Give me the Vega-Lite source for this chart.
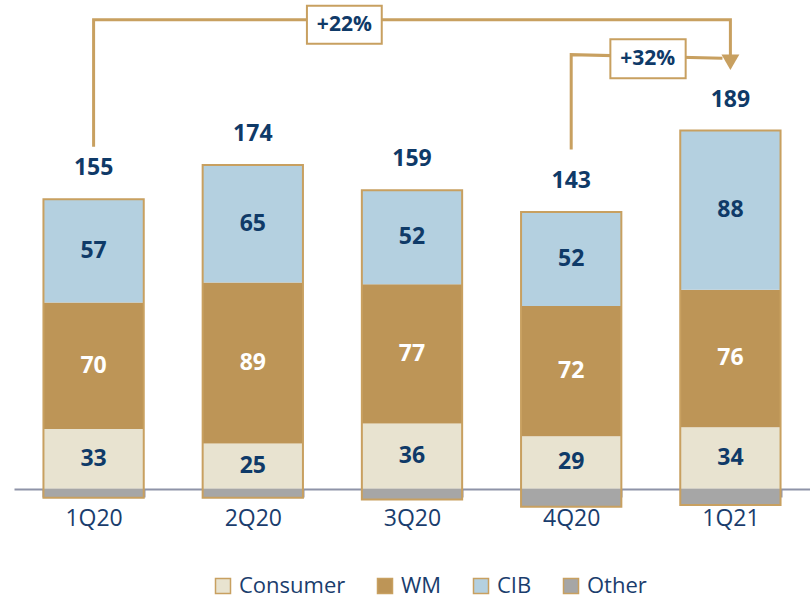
{
  "$schema": "https://vega.github.io/schema/vega-lite/v6.json",
  "width": 796,
  "height": 510,
  "padding": {"left": 14, "top": 4, "right": 0, "bottom": 0},
  "background": "white",
  "config": {"view": {"stroke": null}, "font": "Open Sans"},
  "datasets": {
    "segs": [
      {"q": "1Q20", "seg": "Consumer", "v": 33, "ord": 1},
      {"q": "1Q20", "seg": "WM", "v": 70, "ord": 2},
      {"q": "1Q20", "seg": "CIB", "v": 57, "ord": 3},
      {"q": "1Q20", "seg": "Other", "v": -5, "ord": 4},
      {"q": "2Q20", "seg": "Consumer", "v": 25, "ord": 1},
      {"q": "2Q20", "seg": "WM", "v": 89, "ord": 2},
      {"q": "2Q20", "seg": "CIB", "v": 65, "ord": 3},
      {"q": "2Q20", "seg": "Other", "v": -5, "ord": 4},
      {"q": "3Q20", "seg": "Consumer", "v": 36, "ord": 1},
      {"q": "3Q20", "seg": "WM", "v": 77, "ord": 2},
      {"q": "3Q20", "seg": "CIB", "v": 52, "ord": 3},
      {"q": "3Q20", "seg": "Other", "v": -6, "ord": 4},
      {"q": "4Q20", "seg": "Consumer", "v": 29, "ord": 1},
      {"q": "4Q20", "seg": "WM", "v": 72, "ord": 2},
      {"q": "4Q20", "seg": "CIB", "v": 52, "ord": 3},
      {"q": "4Q20", "seg": "Other", "v": -10, "ord": 4},
      {"q": "1Q21", "seg": "Consumer", "v": 34, "ord": 1},
      {"q": "1Q21", "seg": "WM", "v": 76, "ord": 2},
      {"q": "1Q21", "seg": "CIB", "v": 88, "ord": 3},
      {"q": "1Q21", "seg": "Other", "v": -9, "ord": 4}
    ],
    "paths": [
      {"path": "a", "i": 0, "x": 0.5, "y": 189},
      {"path": "a", "i": 1, "x": 0.5, "y": 259.3},
      {"path": "a", "i": 2, "x": 4.5, "y": 259.3},
      {"path": "a", "i": 3, "x": 4.5, "y": 238},
      {"path": "b", "i": 0, "x": 3.5, "y": 187.5},
      {"path": "b", "i": 1, "x": 3.5, "y": 240},
      {"path": "b", "i": 2, "x": 4.45, "y": 238}
    ],
    "boxes": [
      {"label": "+22%", "x1": 1.84, "x2": 2.31, "y1": 246, "y2": 267, "tx": 2.075, "ty": 256.5},
      {"label": "+32%", "x1": 3.746, "x2": 4.219, "y1": 227, "y2": 248.5, "tx": 3.98, "ty": 237.7}
    ],
    "arrow": [{"x": 4.5, "y": 235.8}]
  },
  "resolve": {"scale": {"x": "independent"}},
  "layer": [
    {
      "data": {"name": "segs"},
      "transform": [
        {"stack": "v", "groupby": ["q"], "sort": [{"field": "ord", "order": "ascending"}], "as": ["v0", "v1"]},
        {"calculate": "(datum.v0 + datum.v1) / 2", "as": "mid"}
      ],
      "encoding": {
        "x": {
          "field": "q", "type": "nominal",
          "sort": ["1Q20", "2Q20", "3Q20", "4Q20", "1Q21"],
          "scale": {"paddingInner": 0.37, "paddingOuter": 0.185},
          "axis": {
            "title": null, "labelFontSize": 23, "labelColor": "#1a3d6d", "labelAngle": 0,
            "domainColor": "#8e93a8", "domainWidth": 2, "tickColor": "#8e93a8", "tickWidth": 2,
            "tickSize": 8, "tickBand": "extent", "labelPadding": 10, "offset": -25, "zindex": 0
          }
        }
      },
      "layer": [
        {
          "mark": {"type": "bar"},
          "encoding": {
            "y": {"field": "v0", "type": "quantitative", "scale": {"domain": [-14, 268], "nice": false, "zero": false}, "axis": null},
            "y2": {"field": "v1"},
            "color": {
              "field": "seg", "type": "nominal",
              "scale": {"domain": ["Consumer", "WM", "CIB", "Other"], "range": ["#e8e3d0", "#bd9557", "#b4d0e0", "#a6a6a6"]},
              "legend": {
                "orient": "none", "legendX": 198, "legendY": 571, "direction": "horizontal", "title": null,
                "labelFontSize": 22, "labelColor": "#1a3d6d", "symbolType": "square", "symbolSize": 225,
                "symbolStrokeColor": "#c8a060", "symbolStrokeWidth": 1.5, "columnPadding": 28,
                "labelOffset": 5, "padding": 0
              }
            }
          }
        },
        {
          "transform": [
            {"aggregate": [{"op": "min", "field": "v1", "as": "lo"}, {"op": "max", "field": "v1", "as": "hi"}, {"op": "sum", "field": "v", "as": "tot"}], "groupby": ["q"]}
          ],
          "layer": [
            {
              "mark": {"type": "bar", "fillOpacity": 0, "stroke": "#c8a060", "strokeWidth": 2},
              "encoding": {
                "y": {"field": "lo", "type": "quantitative", "axis": null},
                "y2": {"field": "hi"}
              }
            },
            {
              "mark": {"type": "text", "fontSize": 23, "fontWeight": "bold", "color": "#0f3a68", "dy": -31, "baseline": "middle"},
              "encoding": {
                "y": {"field": "hi", "type": "quantitative", "axis": null},
                "text": {"field": "tot", "type": "quantitative"}
              }
            }
          ]
        },
        {
          "transform": [{"filter": "datum.seg !== 'Other'"}],
          "mark": {"type": "text", "fontSize": 23, "fontWeight": "bold", "baseline": "middle"},
          "encoding": {
            "y": {"field": "mid", "type": "quantitative", "axis": null},
            "text": {"field": "v", "type": "quantitative"},
            "color": {"condition": {"test": "datum.seg === 'WM'", "value": "white"}, "value": "#0f3a68"}
          }
        }
      ]
    },
    {
      "layer": [
        {
          "data": {"name": "paths"},
          "mark": {"type": "line", "color": "#c8a060", "strokeWidth": 3, "strokeCap": "butt", "strokeJoin": "miter"},
          "encoding": {
            "x": {"field": "x", "type": "quantitative", "scale": {"domain": [0, 5], "nice": false, "zero": false}, "axis": null},
            "y": {"field": "y", "type": "quantitative", "scale": {"domain": [-14, 268], "nice": false, "zero": false}, "axis": null},
            "detail": {"field": "path"},
            "order": {"field": "i"}
          }
        },
        {
          "data": {"name": "arrow"},
          "mark": {"type": "point", "shape": "triangle-down", "filled": true, "color": "#c8a060", "size": 320, "opacity": 1},
          "encoding": {
            "x": {"field": "x", "type": "quantitative"},
            "y": {"field": "y", "type": "quantitative"}
          }
        },
        {
          "data": {"name": "boxes"},
          "mark": {"type": "rect", "fill": "white", "stroke": "#c8a060", "strokeWidth": 2},
          "encoding": {
            "x": {"field": "x1", "type": "quantitative"},
            "x2": {"field": "x2"},
            "y": {"field": "y1", "type": "quantitative"},
            "y2": {"field": "y2"}
          }
        },
        {
          "data": {"name": "boxes"},
          "mark": {"type": "text", "fontSize": 21, "fontWeight": "bold", "color": "#0f3a68", "baseline": "middle"},
          "encoding": {
            "x": {"field": "tx", "type": "quantitative"},
            "y": {"field": "ty", "type": "quantitative"},
            "text": {"field": "label"}
          }
        }
      ]
    }
  ]
}
